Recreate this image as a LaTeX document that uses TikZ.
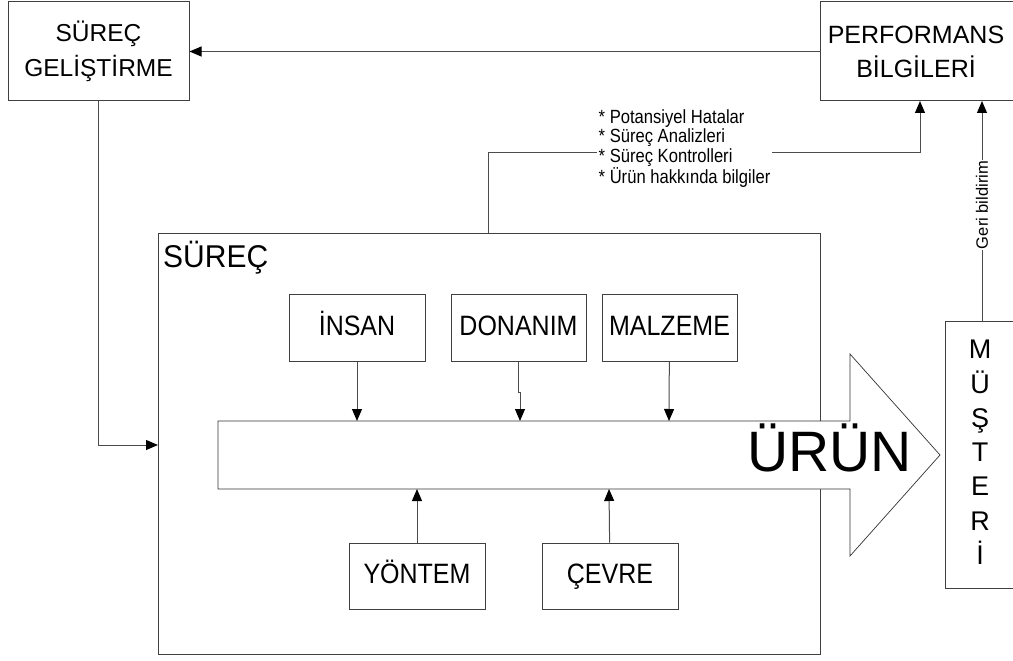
\documentclass[tikz,border=0pt]{standalone}
\usepackage{fontspec}
\usepackage{graphicx}
\setmainfont{Liberation Sans}
\usetikzlibrary{arrows.meta}
\newcommand\fs[2]{\fontsize{#1}{#2}\selectfont}
\newcommand\tl[2][1.15]{\scalebox{1}[#1]{#2}}
\tikzset{
  box/.style={draw=black!75, line width=1pt, fill=white, inner sep=0pt},
  conn/.style={draw=black!70, line width=1pt},
  tip/.style={-{Triangle[length=12pt,width=10pt,color=black]}},
  label/.style={inner sep=0pt, text=black},
}
\begin{document}
\begin{tikzpicture}[x=1pt,y=-1pt]
\useasboundingbox (0,0) rectangle (1013,661);

% outer process frame
\node[box, minimum width=662pt, minimum height=421pt] (surec) at (489,443.5) {};
\node[label, anchor=base west, font=\fs{30}{32}] (surectxt) at (163,267) {\tl[1.05]{SÜREÇ}};

% the product arrow
\draw[line width=0.7pt, draw=black!80, fill=white]
  (218,421) coordinate (bodyNW) -- (850,421) -- (850,354) -- (940,455) coordinate (tipP)
  -- (850,556) -- (850,489) -- (218,489) coordinate (bodySW) -- cycle;
\node[label, anchor=base east, font=\fs{57}{60}] (urun) at (912,471) {ÜRÜN};
\coordinate (inT1) at (357,421);
\coordinate (inT2) at (520,421);
\coordinate (inT3) at (669,421);
\coordinate (inB1) at (417,489);
\coordinate (inB2) at (609,489);

% top-level boxes
\node[box, minimum width=181pt, minimum height=99pt, font=\fs{24.5}{35}, align=center] (gel) at (98.5,51.5) {SÜREÇ\\GELİŞTİRME};
\node[box, minimum width=196pt, minimum height=99pt] (perf) at (918,51.5) {};
\node[label, font=\fs{25}{34}, align=center] (perftxt) at (916,52) {PERFORMANS\\BİLGİLERİ};
\node[box, minimum width=71pt, minimum height=267pt] (must) at (980.5,454.5) {};
\node[label, anchor=north, font=\fs{27}{34.3}, align=center] (musttxt) at (980,340) {M\\Ü\\Ş\\T\\E\\R\\İ};

% inputs
\tikzset{inbox/.style={box, minimum width=136pt, minimum height=67pt, font=\fs{25}{27},
  text height=20.5pt, text depth=5pt}}
\node[inbox] (insan) at (357,327.5) {\tl[1.12]{İNSAN}};
\node[inbox, minimum width=135pt] (don) at (518.5,327.5) {\tl[1.12]{DONANIM}};
\node[inbox, minimum width=135pt] (malz) at (669.5,327.5) {\tl[1.12]{MALZEME}};
\node[inbox, minimum height=66pt] (yont) at (417,576) {\tl[1.12]{YÖNTEM}};
\node[inbox, minimum height=66pt] (cevre) at (610,576) {\tl[1.12]{ÇEVRE}};

\draw[conn, tip] (insan) -- (inT1);
\draw[conn, tip] (don.south) -- ++(0,31) -| (inT2);
\draw[conn, tip] (malz) -- (inT3);
\draw[conn, tip] (yont) -- (inB1);
\draw[conn, tip] (cevre) -- (inB2);

% improvement loop
\draw[conn, tip] (perf.west) -- (gel.east);
\coordinate (gelOut) at (98,101);
\coordinate (surIn) at (158,445);
\draw[conn, tip] (gelOut) |- (surIn);

% information flow to performance data
\coordinate (surOut) at (488,233);
\coordinate (perfIn) at (920,101);
\coordinate (bend) at (488,152);
\draw[conn, tip] (surOut) -- (bend) -| (perfIn);
\node[label, fill=white, inner xsep=1.5pt, anchor=north west, font=\fs{16.6}{15.8}] (info) at (597,109.5)
  {\tl{\begin{tabular}{@{}l@{}}* Potansiyel Hatalar\\\relax * Süreç Analizleri\\\relax * Süreç Kontrolleri\\\relax * Ürün hakkında bilgiler\end{tabular}}};

% customer feedback
\coordinate (mustOut) at (982,321);
\coordinate (perfIn2) at (982,101);
\draw[conn, tip] (mustOut) -- (perfIn2);
\node[label, fill=white, inner xsep=1pt, inner ysep=0.5pt, rotate=90, font=\fs{16.5}{18}] (geri) at (982,205) {Geri bildirim};
\end{tikzpicture}
\end{document}
